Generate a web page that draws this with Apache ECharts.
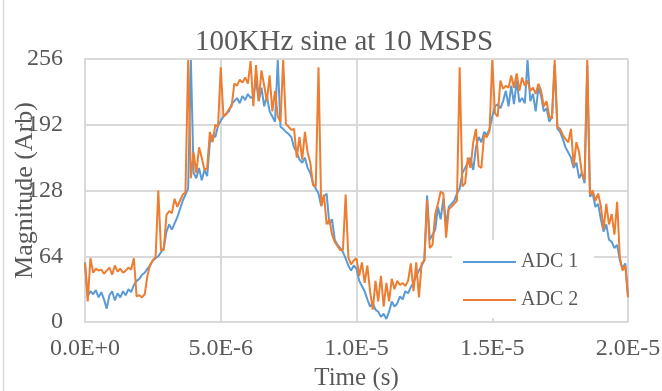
<!DOCTYPE html>
<html>
<head>
<meta charset="utf-8">
<script src="https://cdn.jsdelivr.net/npm/echarts@6/dist/echarts.min.js"></script>
<style>
html,body{margin:0;padding:0;background:#fff;}
#main{width:662px;height:391px;}
</style>
</head>
<body>
<div id="main"></div>
<script>
// 采样间隔 10 MSPS
var samplePeriod = 1e-7;
var xTicks = [0, 5e-6, 1e-5, 1.5e-5, 2e-5];
var yTicks = [0, 64, 128, 192, 256];

var adc1 = [58,25,30,27,31,24,29,22,13,26,30,21,28,24,30,26,32,29,36,40,
  42,46,48,52,55,60,62,64,68,72,88,95,90,96,102,110,118,124,130,255,
  145,140,150,138,148,142,175,182,180,191,196,200,203,205,212,215,218,213,220,216,
  222,218,220,235,215,228,210,220,205,200,195,255,190,188,185,183,180,170,165,158,
  155,160,150,145,135,130,125,113,122,125,95,100,80,75,72,68,62,55,50,55,
  52,40,35,30,22,15,18,12,10,5,8,3,10,20,15,18,25,22,30,28,
  34,38,45,50,55,60,123,80,85,90,112,100,120,95,112,115,118,125,130,145,
  150,155,160,148,170,180,175,185,182,188,200,210,212,208,215,225,210,230,212,235,
  214,218,213,255,215,222,205,228,220,205,208,195,200,250,188,185,178,170,165,160,
  150,155,140,145,135,250,122,125,112,115,100,88,95,80,78,72,75,60,52,57,26];

var adc2 = [57,20,62,48,52,50,51,47,50,53,46,55,49,52,48,50,53,51,62,25,
  26,24,27,45,56,60,63,128,70,70,104,108,106,120,112,118,124,126,255,140,
  165,145,170,160,148,150,185,175,192,190,248,200,202,207,210,232,230,236,233,238,
  232,254,210,250,215,245,230,215,240,205,225,200,195,255,193,190,187,188,160,180,
  158,185,165,155,133,132,248,113,124,95,100,85,78,74,70,70,124,63,56,60,
  62,45,58,38,55,30,12,40,20,45,15,38,20,42,32,40,36,38,35,40,
  57,30,58,24,57,60,119,72,75,105,115,127,125,82,110,112,115,118,248,132,
  135,160,150,175,188,152,150,182,180,186,255,203,200,235,227,230,228,240,228,242,
  225,238,230,235,225,228,222,232,225,210,215,200,198,255,190,188,182,178,175,188,
  152,175,165,145,138,255,124,128,118,125,113,90,115,95,105,85,117,63,50,55,24];

function toPairs(arr) {
  return arr.map(function (v, i) { return [i * samplePeriod, v]; });
}

var serif = '"Liberation Serif", "Times New Roman", serif';
var txt = '#595959';
var grid = '#d9d9d9';

var myChart = echarts.init(document.getElementById('main'));
var option = {
  backgroundColor: '#fff',
  animation: false,
  title: {
    text: '100KHz sine at 10 MSPS',
    left: 190,
    top: 23,
    textStyle: { fontFamily: serif, fontSize: 29, fontWeight: 'normal', color: txt }
  },
  legend: {
    orient: 'vertical',
    left: 452,
    top: 240,
    backgroundColor: '#fff',
    padding: [12, 16, 8, 11],
    itemGap: 18,
    itemWidth: 53,
    itemHeight: 20,
    icon: 'path://M0,6 L52,6 L52,8 L0,8 Z',
    textStyle: { fontFamily: serif, fontSize: 20, color: txt },
    data: ['ADC 1', 'ADC 2']
  },
  graphic: [{
    type: 'line',
    shape: { x1: 3.5, y1: 0, x2: 3.5, y2: 391 },
    style: { stroke: grid, lineWidth: 1.5 }
  }],
  grid: { left: 85, right: 34, top: 59, bottom: 69, outerBoundsMode: 'none' },
  xAxis: {
    type: 'value',
    min: xTicks[0],
    max: xTicks[xTicks.length - 1],
    interval: xTicks[1] - xTicks[0],
    name: 'Time (s)',
    nameLocation: 'middle',
    nameGap: 42,
    nameTextStyle: { fontFamily: serif, fontSize: 25, color: txt },
    axisLine: { lineStyle: { color: grid, width: 2 } },
    axisTick: { show: false },
    axisLabel: {
      fontFamily: serif, fontSize: 24, color: txt, margin: 15,
      formatter: function (v) { return v.toExponential(1).replace('e', 'E'); }
    },
    splitLine: { show: true, lineStyle: { color: grid, width: 2 } }
  },
  yAxis: {
    type: 'value',
    min: yTicks[0],
    max: yTicks[yTicks.length - 1],
    interval: yTicks[1] - yTicks[0],
    name: 'Magnitude (Arb)',
    nameLocation: 'middle',
    nameGap: 47,
    nameMoveOverlap: false,
    nameTextStyle: { fontFamily: serif, fontSize: 26, color: txt },
    axisLine: { show: true, lineStyle: { color: grid, width: 2 } },
    axisTick: { show: false },
    axisLabel: { fontFamily: serif, fontSize: 24, color: txt, margin: 22 },
    splitLine: { show: true, lineStyle: { color: grid, width: 2 } }
  },
  series: [{
    name: 'ADC 1',
    type: 'line',
    showSymbol: false,
    data: toPairs(adc1),
    itemStyle: { color: '#5B9BD5' },
    lineStyle: { color: '#5B9BD5', width: 2 }
  }, {
    name: 'ADC 2',
    type: 'line',
    showSymbol: false,
    data: toPairs(adc2),
    itemStyle: { color: '#ED7D31' },
    lineStyle: { color: '#ED7D31', width: 2 }
  }]
};
myChart.setOption(option);
</script>
</body>
</html>
